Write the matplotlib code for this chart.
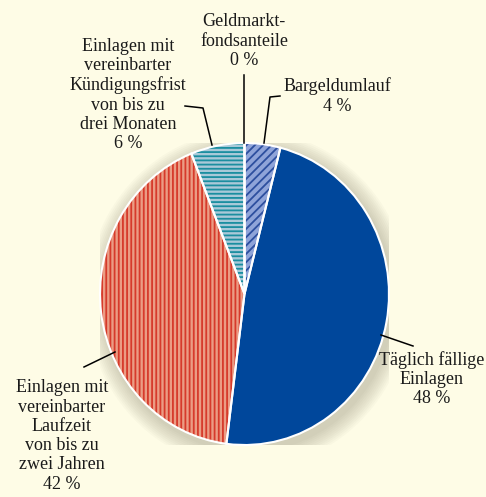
import matplotlib
matplotlib.use("Agg")
import matplotlib.pyplot as plt
from matplotlib.patches import Ellipse

# Anteile an der Geldmenge M3
labels = [
    "Geldmarkt-\nfondsanteile",
    "Bargeldumlauf",
    "Täglich fällige\nEinlagen",
    "Einlagen mit\nvereinbarter\nLaufzeit\nvon bis zu\nzwei Jahren",
    "Einlagen mit\nvereinbarter\nKündigungsfrist\nvon bis zu\ndrei Monaten",
]
shares = [0, 4, 48, 42, 6]

face_colors = ["#9aaedc", "#8fa4d9", "#00479b", "#eb9c84", "#a9c9d8"]
hatch_colors = ["#2d4f9f", "#2d4f9f", "#00479b", "#d63a2b", "#1a8ea0"]
hatches = [None, "////", None, "||||", "----"]

bg = "#fefce6"
W, H = 486, 497
cx, cy, rx, ry = 244.5, 294, 144.5, 151


def px(x, y):
    # Pixelposition im Bild -> Datenkoordinaten der Tortenachse
    return (x - cx) / rx, (cy - y) / ry


plt.rcParams["font.family"] = ["Liberation Serif", "DejaVu Serif"]
plt.rcParams["hatch.linewidth"] = 1.3

fig = plt.figure(figsize=(W / 100, H / 100), dpi=100)
fig.patch.set_facecolor(bg)
ax = fig.add_axes([(cx - rx) / W, (H - cy - ry) / H, 2 * rx / W, 2 * ry / H])
ax.set_facecolor("none")

# weicher Schatten
for i in range(10):
    s = 1.0 + 0.012 * (i + 1)
    ax.add_patch(Ellipse((0.025, -0.035), 2 * s, 2 * s, facecolor="#6b6650",
                         edgecolor="none", alpha=0.03, zorder=0))

wedges, _ = ax.pie(shares, startangle=90, counterclock=False, radius=1,
                   colors=face_colors,
                   wedgeprops=dict(linewidth=0))
for w, hc, h in zip(wedges, hatch_colors, hatches):
    w.set_zorder(2)
    w.set_edgecolor(hc)
    if h:
        w.set_hatch(h)

outl, _ = ax.pie(shares, startangle=90, counterclock=False, radius=1,
                 wedgeprops=dict(facecolor="none", edgecolor="white",
                                 linewidth=1.5))
for w in outl:
    w.set_zorder(3)

ax.set_aspect("auto")
ax.set_xlim(-1, 1)
ax.set_ylim(-1, 1)
ax.axis("off")

# Beschriftungen mit Führungslinien (gleiche Reihenfolge wie labels)
leaders = [
    [(244, 75), (244, 143)],
    [(264, 143), (270, 97), (280, 96)],
    [(381, 335), (413, 346)],
    [(115, 352), (84, 367)],
    [(212, 145), (203, 108), (185, 106)],
]
text_pos = [(244, 41), (337, 96), (432, 379), (62, 436), (128, 95)]

for lab, sh, pts, (tx, ty) in zip(labels, shares, leaders, text_pos):
    xs, ys = zip(*[px(x, y) for x, y in pts])
    ax.plot(xs, ys, color="black", linewidth=1.1, clip_on=False, zorder=4)
    x0, y0 = px(tx, ty)
    ax.text(x0, y0, f"{lab}\n{sh} %", ha="center", va="center", fontsize=13,
            linespacing=1.17, color="#1a1a1a")

fig.savefig("out.png", dpi=100, facecolor=bg)
